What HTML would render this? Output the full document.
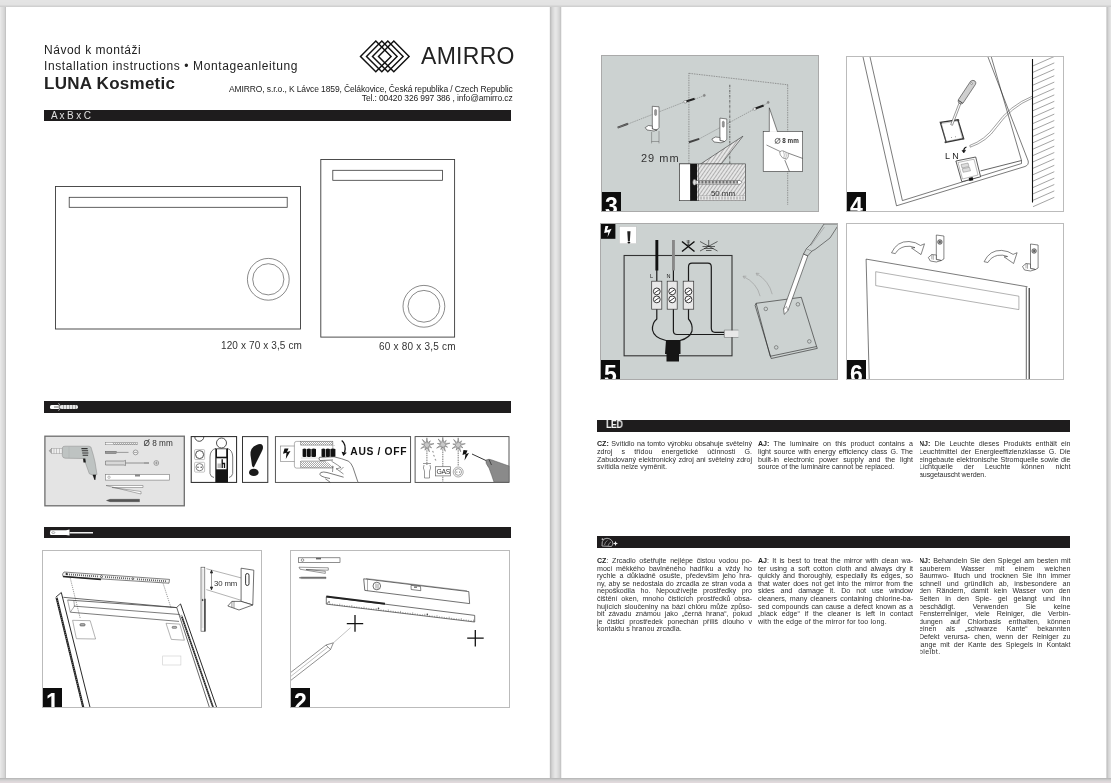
<!DOCTYPE html>
<html><head><meta charset="utf-8">
<style>
*{margin:0;padding:0;box-sizing:border-box}
html,body{width:1111px;height:783px;overflow:hidden}
body{background:#e3e3e3;font-family:"Liberation Sans",sans-serif;color:#222;position:relative}
.a{position:absolute}
.page{position:absolute;top:7px;height:771px;background:#fff}
.bar{position:absolute;background:#1e1c1d;height:11px}
.t{position:absolute;white-space:nowrap;line-height:1;will-change:transform}
.panel{position:absolute;border:1px solid #b4b4b4;overflow:hidden}
.num{position:absolute;left:0;bottom:0;width:19px;height:19px;background:#0d0d0d;color:#fff;font-weight:bold;font-size:23px;line-height:23px;text-indent:3px;overflow:hidden;padding-top:3px;filter:grayscale(1)}
.col{position:absolute;font-size:6.4px;line-height:7.55px;text-align:justify;color:#333;letter-spacing:-0.05px}
.ln{will-change:transform;position:absolute;left:0;width:100%;font-size:7.1px;line-height:8px;height:8px;text-align:justify;text-align-last:justify;color:#2e2e2e;white-space:normal}
.ln.last{text-align:left;text-align-last:left;white-space:nowrap}
.ln b{font-weight:bold;color:#222}
svg.a{will-change:transform}
</style></head><body>
<!-- page shadows -->
<div class="a" style="left:0px;top:0px;width:1111px;height:7px;background:linear-gradient(180deg,#e4e4e4 0.000%,#e4e4e4 14.286%,#e4e4e4 14.286%,#e4e4e4 28.571%,#e3e3e3 28.571%,#e3e3e3 42.857%,#e3e3e3 42.857%,#e3e3e3 57.143%,#e2e2e2 57.143%,#e2e2e2 71.429%,#d9d9d9 71.429%,#d9d9d9 85.714%,#d0d0d0 85.714%,#d0d0d0 100.000%)"></div>
<div class="a" style="left:0px;top:778px;width:1111px;height:5px;background:linear-gradient(180deg,#bababa 0.000%,#bababa 20.000%,#c9c9c9 20.000%,#c9c9c9 40.000%,#d4d2d3 40.000%,#d4d2d3 60.000%,#dcd7d9 60.000%,#dcd7d9 80.000%,#e1d9dc 80.000%,#e1d9dc 100.000%)"></div>
<div class="a" style="left:0px;top:7px;width:6px;height:771px;background:linear-gradient(90deg,#e8e8e8 0.000%,#e8e8e8 16.667%,#e2e2e2 16.667%,#e2e2e2 33.333%,#dedede 33.333%,#dedede 50.000%,#d9d9d9 50.000%,#d9d9d9 66.667%,#d3d3d3 66.667%,#d3d3d3 83.333%,#c4c4c4 83.333%,#c4c4c4 100.000%)"></div>
<div class="a" style="left:550px;top:7px;width:11px;height:771px;background:linear-gradient(90deg,#bebebe 0.000%,#bebebe 9.091%,#cbcbcb 9.091%,#cbcbcb 18.182%,#d6d6d6 18.182%,#d6d6d6 27.273%,#dcdcdc 27.273%,#dcdcdc 36.364%,#e3e3e3 36.364%,#e3e3e3 45.455%,#e6e6e6 45.455%,#e6e6e6 54.545%,#e4e4e4 54.545%,#e4e4e4 63.636%,#dfdfdf 63.636%,#dfdfdf 72.727%,#d9d9d9 72.727%,#d9d9d9 81.818%,#d2d2d2 81.818%,#d2d2d2 90.909%,#c6c6c6 90.909%,#c6c6c6 100.000%)"></div>
<div class="a" style="left:1106px;top:7px;width:5px;height:771px;background:linear-gradient(90deg,#d8d8d8 0.000%,#d8d8d8 20.000%,#c6c6c6 20.000%,#c6c6c6 40.000%,#d4d4d4 40.000%,#d4d4d4 60.000%,#dcdcdc 60.000%,#dcdcdc 80.000%,#e3e3e3 80.000%,#e3e3e3 100.000%)"></div>

<div class="page" style="left:6px;width:544px"></div>
<div class="a" style="left:549px;top:7px;width:1px;height:771px;background:#f4f4f4"></div>
<div class="page" style="left:561px;width:545px"></div>
<div class="a" style="left:561px;top:7px;width:1px;height:771px;background:#f0f0f0"></div>

<!-- ================= LEFT PAGE ================= -->
<div class="t" style="left:44px;top:44.4px;font-size:12px;letter-spacing:0.52px">Návod k montáži</div>
<div class="t" style="left:44px;top:60px;font-size:12px;letter-spacing:0.6px">Installation instructions • Montageanleitung</div>
<div class="t" style="left:43.6px;top:75.2px;font-size:17px;font-weight:bold;letter-spacing:0.26px">LUNA Kosmetic</div>

<div class="t" style="right:598.5px;top:85.4px;font-size:8.5px;text-align:right;line-height:9px;letter-spacing:-0.12px">AMIRRO, s.r.o., K Lávce 1859, Čelákovice, Česká republika / Czech Republic<br>Tel.: 00420 326 997 386 , info@amirro.cz</div>
<svg class="a" style="left:350px;top:36px" width="70" height="42" viewBox="350 36 70 42" fill="none" stroke="#111" stroke-width="1.45">
<path d="M375.8 41.1 L391.1 56.4 L375.8 71.7 L360.5 56.4 Z"/>
<path d="M381.8 41.1 L397.1 56.4 L381.8 71.7 L366.5 56.4 Z"/>
<path d="M387.8 41.1 L403.1 56.4 L387.8 71.7 L372.5 56.4 Z"/>
<path d="M393.8 41.1 L409.1 56.4 L393.8 71.7 L378.5 56.4 Z"/>
</svg>
<div class="t" style="left:420.5px;top:44.8px;font-size:23px;letter-spacing:0.3px">AMIRRO</div>

<div class="bar" style="left:44px;top:109.5px;width:467px;height:11.5px"></div>
<div class="t" style="left:51px;top:110.7px;font-size:10px;color:#e0e0e0;letter-spacing:0.1px;word-spacing:-0.5px">A x B x C</div>

<svg class="a" style="left:40px;top:150px" width="430" height="200" viewBox="40 150 430 200" fill="none" stroke="#3a3a3a" stroke-width="0.9">
<rect x="55.5" y="186.5" width="245" height="142.5"/>
<rect x="69.2" y="197.3" width="218" height="10" stroke-width="0.8"/>
<circle cx="268.3" cy="279.3" r="20.9" stroke-width="0.6"/>
<circle cx="268.3" cy="279.3" r="15.6" stroke-width="0.6"/>
<rect x="320.8" y="159.5" width="133.8" height="177.6"/>
<rect x="332.8" y="170.3" width="109.8" height="10" stroke-width="0.8"/>
<circle cx="423.9" cy="306.3" r="20.9" stroke-width="0.6"/>
<circle cx="423.9" cy="306.3" r="15.9" stroke-width="0.6"/>
</svg>
<div class="t" style="left:220.5px;top:340.8px;font-size:10px;color:#333;letter-spacing:0.12px">120 x 70 x 3,5 cm</div>
<div class="t" style="left:378.6px;top:341.9px;font-size:10px;color:#333;letter-spacing:0.22px">60 x 80 x 3,5 cm</div>

<div class="bar" style="left:44px;top:401px;width:467px;height:11.8px"></div>
<svg class="a" style="left:44px;top:401px" width="40" height="12" viewBox="44 401 40 12">
<rect x="50" y="405" width="9.5" height="4" rx="1.6" fill="#fff"/>
<path d="M58.5 403.2 L61 407 L58.5 410.8" stroke="#ccc" stroke-width="0.8" fill="none"/>
<rect x="60" y="405" width="18" height="4" rx="1.8" fill="#e6e6e6"/>
<path d="M63.5 405v4M66.5 405v4M69.5 405v4M72.5 405v4M75.5 405v4" stroke="#777" stroke-width="0.6"/>
<rect x="54" y="406.3" width="5" height="1.4" fill="#999"/>
</svg>

<!-- tools row -->
<svg class="a" style="left:40px;top:430px" width="475" height="82" viewBox="40 430 475 82">
<defs><pattern id="hs" width="2" height="2" patternUnits="userSpaceOnUse"><rect width="2" height="2" fill="#fff"/><path d="M0 2L2 0" stroke="#555" stroke-width="0.5"/></pattern></defs>
<!-- box 1 -->
<rect x="44.9" y="436.2" width="139.4" height="69.6" fill="#e4e4e4" stroke="#6e6e6e" stroke-width="1.3"/>
<!-- drill -->
<path d="M49.1 450.7 L51.6 448.6 L51.6 453.4 Z" fill="#aaa" stroke="#777" stroke-width="0.4"/>
<rect x="51.6" y="448.4" width="10.7" height="5.4" fill="#eee" stroke="#888" stroke-width="0.4"/>
<path d="M54 448.4v5.4M56.5 448.4v5.4M59.5 448.4v5.4" stroke="#999" stroke-width="0.5"/>
<path d="M62.3 448 Q62.5 446.2 65 446.2 L89 446.2 Q91.5 446.4 91.5 449 Q93.5 455 95 462 L97 474.5 L92.5 475 L89.3 473.7 L85.3 462.5 L83 458.5 L65 458.2 Q62.5 458 62.3 455.5 Z" fill="#bec3c2" stroke="#888" stroke-width="0.5"/>
<path d="M69 446.4 V458.2" stroke="#a8adac" stroke-width="0.5"/>
<path d="M81.4 448.6h6.2M81.8 450.8h6.3M82.2 453h6.2M82.6 455.2h5.5" stroke="#333" stroke-width="1.1"/>
<path d="M83.1 458.5 L85.3 458.5 L85.8 462.5 L83.5 462.5 Z" fill="#1a1a1a"/>
<path d="M92.6 474.8 L96 474.8 L95.3 480 L94.5 480 Z" fill="#1a1a1a"/>
<!-- bit -->
<rect x="105.2" y="442.6" width="32.5" height="2.2" fill="#f5f5f5" stroke="#666" stroke-width="0.4"/>
<path d="M113 442.6 l1.5 2.2 M115 442.6 l1.5 2.2 M117 442.6 l1.5 2.2 M119 442.6 l1.5 2.2 M121 442.6 l1.5 2.2 M123 442.6 l1.5 2.2 M125 442.6 l1.5 2.2 M127 442.6 l1.5 2.2 M129 442.6 l1.5 2.2 M131 442.6 l1.5 2.2 M133 442.6 l1.5 2.2 M135 442.6 l1.5 2.2" stroke="#555" stroke-width="0.5"/>
<text x="143.6" y="446.2" font-family="Liberation Sans" font-size="8.2" fill="#333">Ø 8 mm</text>
<!-- small screwdriver -->
<rect x="105.2" y="451.2" width="11" height="2.4" fill="#999" stroke="#555" stroke-width="0.4"/>
<path d="M116.2 452.4 H128.5" stroke="#888" stroke-width="0.8"/>
<circle cx="135.6" cy="452.4" r="2.4" fill="#f3f3f3" stroke="#555" stroke-width="0.5"/><path d="M133.9 452.4h3.4" stroke="#555" stroke-width="0.5"/>
<!-- big screwdriver -->
<path d="M105.5 461 H124 L125.5 460.3 V465.6 L124 465 H105.5 Z" fill="#d8d8d8" stroke="#555" stroke-width="0.5"/>
<path d="M125.5 463 H144" stroke="#888" stroke-width="0.9"/><path d="M144 463 H149" stroke="#555" stroke-width="0.9"/>
<circle cx="156.3" cy="463" r="2.4" fill="#f3f3f3" stroke="#555" stroke-width="0.5"/><path d="M154.6 463h3.4M156.3 461.3v3.4" stroke="#555" stroke-width="0.5"/>
<!-- level -->
<rect x="105.3" y="474.3" width="64" height="5.8" fill="#fff" stroke="#777" stroke-width="0.6"/>
<rect x="135" y="474.3" width="5" height="2.2" fill="#888"/>
<circle cx="109" cy="477.2" r="1.2" fill="none" stroke="#555" stroke-width="0.4"/>
<!-- folding rule -->
<path d="M106 485.5 L143 485.5 L143 487.5 L112 487.5 L141 491.5 L141 494 Z" fill="#fff" stroke="#666" stroke-width="0.5"/>
<!-- pencil -->
<path d="M106.5 500.5 L110 499.3 H139.5 V501.7 H110 Z" fill="#555" stroke="#444" stroke-width="0.4"/>

<!-- box 2 person -->
<rect x="191.2" y="436.6" width="45.4" height="45.8" fill="#fff" stroke="#222" stroke-width="1"/>
<path d="M194.8 436.8 A4.5 4.5 0 0 0 203.8 436.8" fill="none" stroke="#222" stroke-width="0.8"/>
<rect x="194.6" y="449.6" width="10" height="10" rx="1" fill="#fff" stroke="#888" stroke-width="0.5"/>
<circle cx="199.6" cy="454.6" r="4" fill="none" stroke="#222" stroke-width="0.8"/>
<rect x="194.6" y="462.3" width="10" height="9.8" rx="1" fill="#fff" stroke="#888" stroke-width="0.5"/>
<circle cx="199.6" cy="467.2" r="3.6" fill="none" stroke="#333" stroke-width="0.6"/>
<circle cx="198" cy="467.2" r="0.7" fill="#333"/><circle cx="201.2" cy="467.2" r="0.7" fill="#333"/>
<circle cx="221.5" cy="443" r="5" fill="#fff" stroke="#222" stroke-width="0.8"/>
<path d="M216 448.3 Q210 450 210 457 L210 473.5 Q210.5 477 214 477.5 M227 448.3 Q232.7 450 232.7 457 L232.7 473.5 Q232 477 229 477.5" fill="none" stroke="#222" stroke-width="0.6"/>
<path d="M215.3 448.5 H228 V482.4 H215.3 Z" fill="#151515"/>
<rect x="217" y="449.2" width="9.2" height="7.5" fill="#fff"/>
<rect x="216.5" y="458.3" width="10" height="11" fill="#fff"/>
<path d="M222.2 459.3 V468 M222.2 463.5 H224.5 V468" stroke="#111" stroke-width="1.3" fill="none"/>
<rect x="217.5" y="463.5" width="3.6" height="4.5" fill="#bbb"/>

<!-- box 3 ! -->
<rect x="242.5" y="436.6" width="25.3" height="45.8" fill="#fff" stroke="#333" stroke-width="1"/>
<path d="M256.5 445 Q261 443 262.6 445.5 Q263.8 448 261.5 452 L254 467 Q252.8 468 252 465.5 L250.5 455 Q250 447.5 256.5 445 Z" fill="#1a1a1a"/>
<ellipse cx="253.8" cy="472.4" rx="4.8" ry="3.7" fill="#1a1a1a"/>

<!-- box 4 AUS/OFF -->
<rect x="275.4" y="436.6" width="135.2" height="45.8" fill="#fff" stroke="#444" stroke-width="0.9"/>
<rect x="280.3" y="446" width="15.3" height="15.4" fill="#fff" stroke="#666" stroke-width="0.5"/>
<path d="M284.5 448.5 L283 453.8 L286.5 452.8 L285.8 459 L290.5 451 L287 452 L288.5 448.5 Z" fill="#111"/>
<path d="M296.5 441.4 H332.8 V468.1 H296.5 Q294.4 468.1 294.4 466 V443.5 Q294.4 441.4 296.5 441.4 Z" fill="#fff" stroke="#666" stroke-width="0.5"/>
<rect x="300.4" y="441.6" width="32.4" height="3.4" fill="url(#hs)" stroke="#666" stroke-width="0.4"/>
<rect x="300.4" y="461.8" width="32.4" height="5.8" fill="url(#hs)" stroke="#666" stroke-width="0.4"/>
<path d="M301 445.5 H335 M301 458 H333 M301 460.5 H333" stroke="#aaa" stroke-width="0.4"/>
<g fill="#111">
<path d="M302.6 449 q1.9 -1 3.8 0 v7.5 q-1.9 1 -3.8 0 Z"/>
<path d="M307 449 q1.9 -1 3.8 0 v7.5 q-1.9 1 -3.8 0 Z"/>
<path d="M311.4 449 q2.3 -1 4.6 0 v7.5 q-2.3 1 -4.6 0 Z"/>
<path d="M321.5 449 q1.9 -1 3.8 0 v7.5 q-1.9 1 -3.8 0 Z"/>
<path d="M325.9 449 q2 -1 4 0 v7.5 q-2 1 -4 0 Z"/>
<path d="M330.4 449 q2.5 -1 5 0 v7.5 q-2.5 1 -5 0 Z"/>
</g>
<path d="M341.7 440.4 Q346.5 444 344.6 452.5" fill="none" stroke="#111" stroke-width="1.3"/><path d="M341.6 451.8 L343.3 456 L346.8 452.8 Z" fill="#111"/>
<text x="350.3" y="455" font-family="Liberation Sans" font-weight="bold" font-size="10.3" fill="#111" letter-spacing="0.66">AUS / OFF</text>
<path d="M319.6 457.3 Q318 459 320 460.5 L333 460 M319.6 457.3 L334.1 456.8 Q342 458.5 348.6 461.2 Q351.5 463.5 353 467.5 L358 482.4" fill="#fff" stroke="#222" stroke-width="0.6"/>
<path d="M331.5 461.2 L337.5 465 L341 467.5 L336 469 M333 466 L332.5 472 M336 468.5 L343.5 474 M340 470.5 L343.5 467" fill="none" stroke="#222" stroke-width="0.5"/>
<path d="M330 478.5 Q324 477.5 321.2 476 Q318.5 474 320.8 472.5 Q323.5 471.5 327 472.5 L336 475 L343.6 477.2" fill="#fff" stroke="#222" stroke-width="0.6"/>
<path d="M325.3 478.8 Q328 480.5 330.3 482.4" fill="none" stroke="#222" stroke-width="0.6"/>

<!-- box 5 pipes -->
<rect x="415.1" y="436.6" width="93.9" height="45.8" fill="#fff" stroke="#444" stroke-width="0.9"/>
<path d="M426.9 441 V473 M442.8 440 V482.4 M458.2 441 V466" stroke="#888" stroke-width="1.1" stroke-dasharray="1.5 0.8"/>
<g stroke="#555" stroke-width="0.45" fill="#c8c8c8"><path d="M426.9 437.8 L427.7 442.9 L430.4 440.8 L428.8 443.9 L434.0 443.7 L429.1 445.4 L431.7 447.8 L428.3 446.7 L429.4 451.8 L426.9 447.2 L425.0 450.2 L425.5 446.7 L420.7 448.6 L424.7 445.4 L421.5 444.0 L425.0 443.9 L422.3 439.5 L426.1 442.9 Z"/><path d="M442.8 437.3 L443.6 442.4 L446.3 440.3 L444.7 443.4 L449.9 443.2 L445.0 444.9 L447.6 447.2 L444.2 446.2 L445.3 451.3 L442.8 446.7 L440.9 449.7 L441.4 446.2 L436.6 448.1 L440.6 444.9 L437.4 443.5 L440.9 443.4 L438.2 439.0 L442.0 442.4 Z"/><path d="M458.2 437.8 L459.0 442.9 L461.7 440.8 L460.1 443.9 L465.3 443.7 L460.4 445.4 L463.0 447.8 L459.6 446.7 L460.7 451.8 L458.2 447.2 L456.3 450.2 L456.8 446.7 L452.0 448.6 L456.0 445.4 L452.8 444.0 L456.3 443.9 L453.6 439.5 L457.4 442.9 Z"/></g>
<path d="M432.5 451 l1 1.5 M433.5 455 l1 1.5 M435 459 l1 1.5" stroke="#999" stroke-width="1.2"/>
<path d="M423 463.5 H431 M424 465 Q422.5 468 424.5 471 L424.5 478 H429.5 V471 Q431.5 468 430 465" fill="#fff" stroke="#555" stroke-width="0.6"/>
<rect x="435.4" y="466.7" width="15.2" height="9.2" fill="#fff" stroke="#666" stroke-width="0.7"/>
<text x="436.6" y="474.3" font-family="Liberation Sans" font-size="6.9" fill="#333" letter-spacing="-0.45">GAS</text>
<circle cx="458.2" cy="472" r="5" fill="#fff" stroke="#888" stroke-width="0.7"/><circle cx="458.2" cy="472" r="3.3" fill="none" stroke="#444" stroke-width="0.5"/>
<circle cx="456.9" cy="472" r="0.5" fill="#333"/><circle cx="459.5" cy="472" r="0.5" fill="#333"/>
<path d="M463.5 450 L462.5 455 L465.5 454 L464.5 460.5 L469 453 L466 454 L467.5 450.5 Z" fill="#111"/>
<path d="M472 454 L487 461" stroke="#333" stroke-width="1"/>
<path d="M486 460 Q489 458.5 492 460 L509 466 L509 482.2 L494 482.2 Q492 476 489 468 Q485 463 486 460 Z" fill="#8a8a8a" stroke="#555" stroke-width="0.5"/>
<path d="M489 459.5 L491.5 465" stroke="#444" stroke-width="1"/>
</svg>

<div class="bar" style="left:44px;top:527.1px;width:467px;height:11.4px"></div>
<svg class="a" style="left:44px;top:527px" width="55" height="12" viewBox="44 527 55 12">
<path d="M50.5 530.2 H66 L69.5 529.6 V535.6 L66 535 H50.5 Q49.4 532.6 50.5 530.2 Z" fill="#fff"/>
<ellipse cx="53.3" cy="532.6" rx="1.6" ry="0.9" fill="none" stroke="#666" stroke-width="0.5"/>
<rect x="69.5" y="532" width="23.5" height="1.5" fill="#f0f0f0"/>
</svg>

<div class="panel" style="left:42px;top:550px;width:219.5px;height:158px;border-color:#bbb">
<svg class="a" style="left:-43px;top:-551px" width="262" height="710" viewBox="0 0 262 710">
<defs>
<pattern id="rail" width="2.4" height="2.4" patternUnits="userSpaceOnUse" patternTransform="rotate(-20)"><rect width="2.4" height="2.4" fill="#fff"/><rect width="2.4" height="1.1" fill="#333"/></pattern>
</defs>
<g fill="none" stroke="#222" stroke-width="0.7">
<!-- left rail -->
<path d="M55.7 597.3 L61.3 592.5 L90.2 708 L83.3 708 Z" fill="#fff" stroke="none"/>
<path d="M56.6 597.8 L83.4 708" stroke="#1a1a1a" stroke-width="2.1"/>
<path d="M56.6 597.8 L83.4 708" stroke="#fff" stroke-width="0.7" stroke-dasharray="0.6 1.6"/>
<path d="M61.3 592.5 L90.2 708" stroke="#111" stroke-width="0.9"/>
<path d="M55.7 597.3 L61.3 592.5" stroke="#222" stroke-width="0.9"/>
<!-- right rail -->
<path d="M176.7 607.4 L180.5 603.9 L216.9 708 L209.3 708 Z" fill="#fff" stroke="none"/>
<path d="M180.5 603.9 L216.9 708" stroke="#111" stroke-width="0.9"/>
<path d="M176.7 607.4 L209.6 708" stroke="#222" stroke-width="0.7"/>
<path d="M176.7 607.4 L180.5 603.9" stroke="#222" stroke-width="0.7"/>
<path d="M181.8 616.5 L213.3 708" stroke="#222" stroke-width="1.7"/>
<path d="M181.8 616.5 L213.3 708" stroke="#fff" stroke-width="0.6" stroke-dasharray="0.6 1.5"/>
<circle cx="181.4" cy="616.2" r="0.9" fill="#fff" stroke="#333" stroke-width="0.4"/>
<!-- cross bar -->
<path d="M63.4 597.3 L176.7 607.6" stroke="#444" stroke-width="0.8"/>
<path d="M67.6 600 L176.7 607.6" stroke="#444" stroke-width="0.8"/>
<path d="M73.8 606.1 L179.8 614.5" stroke="#444" stroke-width="0.7"/>
<path d="M70.3 612.2 L179 621.4" stroke="#444" stroke-width="0.7"/>
<path d="M67.6 600 L70.3 612.2 L74.5 606.1 L73.8 600.5" stroke="#555" stroke-width="0.5"/>
<!-- plates -->
<path d="M72.6 620.3 L90.2 620.7 L95.6 639 L76.4 638.7 Z" stroke="#666" stroke-width="0.5"/>
<rect x="80" y="623.7" width="5" height="2.2" rx="0.8" fill="#bbb" stroke="#333" stroke-width="0.6"/>
<path d="M166 623.3 L179.8 624.1 L184.4 640.2 L171.3 639.4 Z" stroke="#666" stroke-width="0.5"/>
<rect x="172.2" y="626.4" width="4.4" height="1.9" rx="0.6" fill="#bbb" stroke="#333" stroke-width="0.5"/>
<rect x="162.7" y="656" width="18.2" height="9" stroke="#ccc" stroke-width="0.6"/>
<!-- dashed -->
<path d="M70.3 578.3 L80.3 618.6 M163.1 583.3 L171.2 608.5" stroke="#333" stroke-width="0.5" stroke-dasharray="1.2 1"/>
<!-- folding rule -->
<path d="M64 572 L169.5 579.4 L169 583.2 L63 576.5 Q61.5 574 64 572 Z" fill="#f4f4f4" stroke="#333" stroke-width="0.6"/>
<path d="M63 576.5 L101 579.5" stroke="#222" stroke-width="1.5"/>
<path d="M67.5 573.4l0 1.8M69.5 573.6l0 1.8M71.5 573.7l0 1.8M73.5 573.8l0 1.8M75.5 574.0l0 1.8M77.5 574.1l0 1.8M79.5 574.3l0 1.8M81.5 574.4l0 1.8M83.5 574.5l0 1.8M85.5 574.7l0 1.8M87.5 574.8l0 1.8M89.5 575.0l0 1.8M91.5 575.1l0 1.8M93.5 575.2l0 1.8M95.5 575.4l0 1.8M97.5 575.5l0 1.8M105.5 576.1l0 1.8M107.5 576.2l0 1.8M109.5 576.4l0 1.8M111.5 576.5l0 1.8M113.5 576.6l0 1.8M115.5 576.8l0 1.8M117.5 576.9l0 1.8M119.5 577.1l0 1.8M121.5 577.2l0 1.8M123.5 577.3l0 1.8M125.5 577.5l0 1.8M127.5 577.6l0 1.8M129.5 577.8l0 1.8M137.5 578.3l0 1.8M139.5 578.5l0 1.8M141.5 578.6l0 1.8M143.5 578.7l0 1.8M145.5 578.9l0 1.8M147.5 579.0l0 1.8M149.5 579.2l0 1.8M151.5 579.3l0 1.8M153.5 579.4l0 1.8M155.5 579.6l0 1.8M157.5 579.7l0 1.8M159.5 579.9l0 1.8M161.5 580.0l0 1.8M163.5 580.1l0 1.8M165.5 580.3l0 1.8" stroke="#444" stroke-width="0.8"/>
<circle cx="66.5" cy="574" r="0.7" fill="#222"/><circle cx="101.5" cy="576.6" r="1" fill="#fff"/><circle cx="132.8" cy="578.7" r="0.9" fill="#fff"/>
<!-- tape -->
<rect x="201" y="567.2" width="3.8" height="64" fill="#fafafa" stroke="#444" stroke-width="0.6"/>
<path d="M205 598.8 V631.5" stroke="#222" stroke-width="1.2"/>
<path d="M201.5 570h2M201.5 572h2M201.5 574h2M201.5 576h2M201.5 578h2M201.5 580h2M201.5 582h2M201.5 584h2M201.5 586h2M201.5 588h2M201.5 590h2M201.5 592h2M201.5 594h2M201.5 596h2M201.5 598h2M201.5 601h2M201.5 603h2M201.5 605h2M201.5 607h2M201.5 609h2M201.5 611h2M201.5 613h2M201.5 615h2M201.5 617h2M201.5 619h2M201.5 621h2M201.5 623h2M201.5 625h2M201.5 627h2" stroke="#888" stroke-width="0.35"/>
<circle cx="202.6" cy="600" r="0.6" fill="#222"/>
<!-- dims -->
<path d="M206.3 568.7 L241.1 577.9 M206.3 589.6 L241.1 600.3" stroke="#555" stroke-width="0.45"/>
<path d="M211.5 570.5 V589.5" stroke="#333" stroke-width="0.5"/>
<path d="M210.3 573 L211.5 570.2 L212.7 573 Z M210.3 587 L211.5 589.8 L212.7 587 Z" fill="#333"/>
<!-- bracket -->
<path d="M241.1 568.2 L253.8 570.2 L252.8 604.9 L241.1 601.4 Z" fill="#fff" stroke="#333" stroke-width="0.7"/>
<rect x="245.6" y="573.5" width="3.4" height="12" rx="1.7" stroke="#222" stroke-width="0.9"/>
<path d="M227.8 606 L231.9 601.4 L241.1 601.4 L252.8 605 L239 610 Z" fill="#fff" stroke="#333" stroke-width="0.7"/>
<path d="M231.9 601.4 V607.5 M234 601.4 V608.2" stroke="#333" stroke-width="0.5"/>
</g>
<text x="213.9" y="586" font-family="Liberation Sans" font-size="7.8" fill="#333" letter-spacing="-0.1">30 mm</text>
</svg>
<div class="num">1</div></div>
<div class="panel" style="left:290px;top:550px;width:219.5px;height:158px;border-color:#bbb">
<svg class="a" style="left:-291px;top:-551px" width="510" height="710" viewBox="0 0 510 710">
<g fill="none" stroke="#333" stroke-width="0.6">
<!-- small icons -->
<rect x="298.5" y="557.8" width="41.5" height="4.6" fill="#fff" stroke="#444"/>
<rect x="316" y="557.8" width="5" height="1.6" fill="#666" stroke="none"/>
<circle cx="302.5" cy="560.1" r="1.3" stroke-width="0.5"/>
<path d="M299 567.2 L328.3 567.8 L328.3 570.2 L306 569.5 L325.3 571.3 L325.3 573.4 L300 569.2 Z" fill="#fff" stroke-width="0.5"/>
<path d="M299 577.8 L301.5 577 H326 V578.6 H301.5 Z" fill="#777" stroke="#555" stroke-width="0.4"/>
<!-- big level -->
<path d="M363.7 578.8 L468.8 591.6 L469.6 603.6 L364.8 590.4 Z" fill="#fff" stroke-width="0.7"/>
<path d="M366 578.5 L467 590.8" stroke-width="0.4"/>
<path d="M367.5 579.5 V590.7" stroke-width="0.4"/>
<circle cx="376.8" cy="586" r="3.8" stroke-width="0.7"/><path d="M376 583.5 V588.5 M378 583.8 V588.8" stroke-width="0.5"/>
<path d="M411 585.3 L420.5 586.5 L420.8 590.7 L411.2 589.5 Z" stroke-width="0.6"/><rect x="414" y="586.4" width="3" height="1.5" fill="#777" stroke="none"/>
<!-- long folding rule -->
<path d="M326.3 596.8 L474.7 615.4 L474.7 622 L326.3 604.1 Z" fill="#fff" stroke-width="0.7"/>
<path d="M326.3 596.6 L385 603.8" stroke="#222" stroke-width="2"/>
<path d="M327.5 604.4l0 -2.2M329.9 604.7l0 -1.4M332.4 605.0l0 -1.4M334.8 605.3l0 -1.4M337.2 605.6l0 -1.4M339.7 605.9l0 -2.2M342.1 606.1l0 -1.4M344.5 606.4l0 -1.4M347.0 606.7l0 -1.4M349.4 607.0l0 -1.4M351.8 607.3l0 -2.2M354.3 607.6l0 -1.4M356.7 607.9l0 -1.4M359.1 608.2l0 -1.4M361.6 608.5l0 -1.4M364.0 608.8l0 -2.2M366.4 609.0l0 -1.4M368.9 609.3l0 -1.4M371.3 609.6l0 -1.4M373.7 609.9l0 -1.4M376.2 610.2l0 -2.2M378.6 610.5l0 -1.4M381.0 610.8l0 -1.4M383.5 611.1l0 -1.4M385.9 611.4l0 -1.4M388.3 611.6l0 -2.2M390.8 611.9l0 -1.4M393.2 612.2l0 -1.4M395.6 612.5l0 -1.4M398.1 612.8l0 -1.4M400.5 613.1l0 -2.2M402.9 613.4l0 -1.4M405.4 613.7l0 -1.4M407.8 614.0l0 -1.4M410.2 614.3l0 -1.4M412.7 614.5l0 -2.2M415.1 614.8l0 -1.4M417.5 615.1l0 -1.4M420.0 615.4l0 -1.4M422.4 615.7l0 -1.4M424.8 616.0l0 -2.2M427.3 616.3l0 -1.4M429.7 616.6l0 -1.4M432.1 616.9l0 -1.4M434.6 617.2l0 -1.4M437.0 617.4l0 -2.2M439.4 617.7l0 -1.4M441.9 618.0l0 -1.4M444.3 618.3l0 -1.4M446.7 618.6l0 -1.4M449.2 618.9l0 -2.2M451.6 619.2l0 -1.4M454.0 619.5l0 -1.4M456.5 619.8l0 -1.4M458.9 620.1l0 -1.4M461.3 620.3l0 -2.2M463.8 620.6l0 -1.4M466.2 620.9l0 -1.4M468.6 621.2l0 -1.4M471.1 621.5l0 -1.4M473.5 621.8l0 -2.2" stroke="#444" stroke-width="0.45"/>
<circle cx="329" cy="602" r="0.8" fill="#333" stroke="none"/><circle cx="378.5" cy="608.2" r="0.8" fill="#333" stroke="none"/><circle cx="427.3" cy="614.3" r="0.8" fill="#333" stroke="none"/>
<!-- crosses -->
<path d="M346.8 623.7 H363.2 M355 615 V631.8" stroke="#111" stroke-width="1.3"/>
<path d="M467.2 638.2 H483.7 M475.3 630.1 V646.5" stroke="#111" stroke-width="1.3"/>
<!-- pencil -->
<path d="M333.4 642.8 L350.5 627.7" stroke="#666" stroke-width="0.4"/>
<path d="M290 673 L326 645 L333.4 642.8 L330.5 649.5 L290 681" fill="#fff" stroke="#444" stroke-width="0.6"/>
<path d="M290 677 L328 647" stroke="#666" stroke-width="0.4"/>
<path d="M326 645 L330.5 649.5" stroke-width="0.5"/>
</g>
</svg>
<div class="num">2</div></div>

<!-- ================= RIGHT PAGE ================= -->
<div class="panel" style="left:601px;top:55px;width:217.5px;height:156.5px;background:#ccd2d1;border-color:#aaa">
<svg class="a" style="left:-602px;top:-56px" width="820" height="212" viewBox="0 0 820 212">
<defs>
<pattern id="hatch3" width="3" height="3" patternUnits="userSpaceOnUse" patternTransform="rotate(-55)"><rect width="3" height="3" fill="#e6e6e6"/><rect width="3" height="0.5" fill="#777"/></pattern>
</defs>
<g fill="none" stroke="#444" stroke-width="0.6">
<!-- wall outline dotted -->
<path d="M688.9 73.3 L787.7 84.8 M688.9 73.3 V164 M787.7 84.8 V205.5" stroke="#777" stroke-width="0.9" stroke-dasharray="0.8 0.9"/>
<path d="M729.8 84.8 V164" stroke="#333" stroke-width="0.7" stroke-dasharray="2.5 1 0.6 1"/>
<!-- screw lines -->
<path d="M628 124 L684.3 102 M694.6 99.3 L704.3 95.6 M699.2 138.9 L754.4 109 M763.6 105.5 L768.2 102.5" stroke="#555" stroke-width="0.4" stroke-dasharray="1.5 0.8"/>
<path d="M617.6 127.6 L628 123.8" stroke="#444" stroke-width="2"/>
<path d="M618 127.6 L627.5 123.9" stroke="#ccc" stroke-width="0.6" stroke-dasharray="0.6 0.6"/>
<path d="M686 101.6 L694.6 98.8" stroke="#222" stroke-width="2.1"/><ellipse cx="685.2" cy="101.8" rx="1.5" ry="1.2" fill="#fff" stroke="#333" stroke-width="0.4"/>
<circle cx="704.3" cy="95.4" r="1.1" fill="#888" stroke="#666" stroke-width="0.3"/>
<path d="M688.9 142.3 L699.2 138.9" stroke="#444" stroke-width="2"/>
<path d="M755.5 108.6 L763.6 105.5" stroke="#222" stroke-width="2.1"/><ellipse cx="754.6" cy="109" rx="1.5" ry="1.2" fill="#fff" stroke="#333" stroke-width="0.4"/>
<circle cx="768.2" cy="102.4" r="1.1" fill="#888" stroke="#666" stroke-width="0.3"/>
<!-- bracket 1 -->
<path d="M652.3 106.3 L659 106.8 L659 127.5 L657 130 L652.3 129 Z" fill="#fff" stroke="#333" stroke-width="0.6"/>
<rect x="654.6" y="109.5" width="2" height="6" rx="1" fill="#999" stroke="#555" stroke-width="0.4"/>
<path d="M645.2 127.6 L648.5 125.5 L652.3 126 L652.3 129 L657 130 L654 131 L647 130 Z" fill="#fff" stroke="#333" stroke-width="0.6"/>
<path d="M651.6 132 V143.4 M659 131 V143.4 M651.6 141.5 H659" stroke="#444" stroke-width="0.4"/>
<!-- bracket 2 -->
<path d="M719.9 118.1 L726.8 119 L726.8 139.5 L724.5 141.5 L719.9 140.5 Z" fill="#fff" stroke="#333" stroke-width="0.6"/>
<rect x="722.3" y="121.2" width="2" height="6" rx="1" fill="#999" stroke="#555" stroke-width="0.4"/>
<path d="M711.8 139 L715.5 137 L719.9 137.5 L719.9 140.5 L724.5 141.5 L721 142.8 L714 142 Z" fill="#fff" stroke="#333" stroke-width="0.6"/>
<!-- detail box left -->
<path d="M699.7 164.6 L742.9 136.2 L721.3 163.9 Z" fill="url(#hatch3)" stroke="#333" stroke-width="0.6"/>
<rect x="679.5" y="163.9" width="65.8" height="36.8" fill="url(#hatch3)" stroke="#333" stroke-width="0.6"/>
<rect x="679.5" y="163.9" width="10.8" height="36.8" fill="#fff" stroke="#333" stroke-width="0.6"/>
<rect x="690.3" y="163.9" width="6.7" height="36.8" fill="#151515" stroke="none"/>
<path d="M698.4 164 V200.7" stroke="#333" stroke-width="0.5"/>
<path d="M698.4 195.6 H745.3" stroke="#777" stroke-width="0.4"/>
<rect x="699" y="195.8" width="46" height="4.6" fill="#e6e6e6" stroke="none"/>
<path d="M700 198 h45" stroke="#888" stroke-width="3" stroke-dasharray="0.4 1.1"/>
<path d="M693.5 180.5 L740.2 180.5 L741.8 182.3 L740.2 184.2 L693.5 184.2 Z" fill="#fff" stroke="#333" stroke-width="0.5"/>
<path d="M698 182.3 H738" stroke="#333" stroke-width="2.6" stroke-dasharray="0.7 0.7"/>
<ellipse cx="694.5" cy="182.3" rx="1.8" ry="3" fill="#ddd" stroke="#333" stroke-width="0.5"/>
<!-- detail box right -->
<path d="M769.3 131.5 L769.3 107.8 L777.4 131.5" fill="#fff" stroke="#333" stroke-width="0.6"/>
<rect x="763.2" y="131.5" width="39.5" height="39.8" fill="#fff" stroke="#333" stroke-width="0.6"/>
<path d="M769.8 131.6 H776.9" stroke="#fff" stroke-width="1"/>
<path d="M766.5 145 L782 152.4" stroke="#444" stroke-width="0.6"/>
<path d="M788.3 153.2 L802.6 158.4 M784.8 160.1 L789.4 171.4" stroke="#333" stroke-width="0.6"/>
<path d="M779.7 152 Q781 150.5 783 150.8 L788.3 153.2 Q789 157.5 786.5 159.3 L782.5 157.8 Q779.5 155 779.7 152 Z" fill="#fff" stroke="#444" stroke-width="0.5"/>
<path d="M783.5 151.3 Q785 155 783.8 158.3 M785.8 152.3 Q787 156 785.5 159" stroke="#555" stroke-width="0.4"/>
</g>
<text x="641" y="161.8" font-family="Liberation Sans" font-size="11" fill="#333" letter-spacing="1">29 mm</text>
<text x="711" y="195.6" font-family="Liberation Sans" font-size="8" fill="#333" letter-spacing="-0.1">50 mm</text>
<g fill="none" stroke="#333" stroke-width="0.7"><circle cx="777.6" cy="140.9" r="2.5"/><path d="M775.2 143.6 L780.1 138.1"/></g>
<text x="782.3" y="143.3" font-family="Liberation Sans" font-size="6.3" font-weight="bold" fill="#333" letter-spacing="0">8 mm</text>
</svg>
<div class="num">3</div></div>
<div class="panel" style="left:846px;top:56px;width:218px;height:155.5px;border-color:#bbb">
<svg class="a" style="left:-847px;top:-57px" width="1064" height="212" viewBox="0 0 1064 212">
<g fill="none" stroke="#222" stroke-width="0.6">
<!-- mirror -->
<path d="M862.8 56 L896.5 205.8 L1025 166.5 Q1029 165 1028.2 161 L987.6 56" fill="#fff"/>
<path d="M869.8 56 L902.4 200.6 L1021.5 163.5" />
<path d="M991 56 L1021.5 160.5 L1021.5 163.5" stroke-width="0.6"/>
<!-- wall -->
<path d="M1032.5 59 V202.5" stroke="#111" stroke-width="1.1"/>
<path d="M1033 65.9 L1054.3 56.5 M1033 72.3 L1054.3 62.9 M1033 78.7 L1054.3 69.3 M1033 85.1 L1054.3 75.7 M1033 91.5 L1054.3 82.1 M1033 97.9 L1054.3 88.5 M1033 104.3 L1054.3 94.9 M1033 110.7 L1054.3 101.3 M1033 117.1 L1054.3 107.7 M1033 123.5 L1054.3 114.1 M1033 129.9 L1054.3 120.5 M1033 136.3 L1054.3 126.9 M1033 142.7 L1054.3 133.3 M1033 149.1 L1054.3 139.7 M1033 155.5 L1054.3 146.1 M1033 161.9 L1054.3 152.5 M1033 168.3 L1054.3 158.9 M1033 174.7 L1054.3 165.3 M1033 181.1 L1054.3 171.7 M1033 187.5 L1054.3 178.1 M1033 193.9 L1054.3 184.5 M1033 200.3 L1054.3 190.9 M1033 206.7 L1054.3 197.3 " stroke="#333" stroke-width="0.45"/>
<!-- cable -->
<path d="M1032.3 96.2 Q1010 105 995 126 Q985 140 969.8 145.4" stroke="#444" stroke-width="0.5"/>
<path d="M1032.3 98.2 Q1011 107 996.5 127.5 Q987 141.5 970.2 147.2" stroke="#444" stroke-width="0.5"/>
<path d="M969.8 145.4 L970.2 147.2" stroke="#444" stroke-width="0.5"/>
<!-- junction box -->
<path d="M940.3 122.4 L957.9 119.8 L963.7 138.7 L946.2 142.2 Z" fill="#fff" stroke="#333" stroke-width="1.3"/>
<path d="M941.5 123.5 L957.8 121 L962.2 138.2 L946 141.5 Z" stroke="#777" stroke-width="0.4"/>
<circle cx="941" cy="123" r="1" fill="#444" stroke="none"/><circle cx="958.3" cy="120.2" r="1" fill="#444" stroke="none"/><circle cx="963" cy="138.5" r="1" fill="#444" stroke="none"/><circle cx="945.5" cy="142.3" r="1" fill="#444" stroke="none"/>
<path d="M951 137.5 h1 M955 136.8 h1" stroke="#666" stroke-width="0.6"/>
<!-- screwdriver -->
<path d="M950.7 124.6 L959.8 101 L961.6 101.7 L952.5 125.3 Z" fill="#fff" stroke="#333" stroke-width="0.5"/>
<path d="M958.3 99.8 L970.7 81.1 Q973 79.6 975 81 Q976.5 83 975.5 84.3 L963.1 103 Q961.5 104.5 959.5 103.5 Q957.7 102 958.3 99.8 Z" fill="#cfcfcf" stroke="#333" stroke-width="0.6"/>
<circle cx="971.6" cy="83.6" r="0.9" fill="#fff" stroke="#444" stroke-width="0.4"/>
<path d="M958.5 100.5 L962.5 103" stroke="#333" stroke-width="0.9"/>
<!-- arrow -->
<path d="M966.5 147 Q963.5 148 963.8 151.5" stroke="#111" stroke-width="1.2"/>
<path d="M962 150.5 L963.8 153 L965.6 150.2 Z" fill="#111"/>
<!-- terminal block -->
<path d="M955.9 161 L975.7 157 L980.6 176.8 L961.8 181.7 Z" fill="#fff" stroke="#333" stroke-width="0.8"/>
<path d="M958 162.5 L974 159.2 L978 175 L962.5 179 Z" stroke="#555" stroke-width="0.4"/>
<path d="M961 164.5 L968 163 L969 166.5 L962 168 Z M962.2 168.8 L969.5 167.3 L970.5 170.8 L963.2 172.3 Z" fill="#ddd" stroke="#666" stroke-width="0.4"/>
<rect x="969" y="177.5" width="4" height="3.2" fill="#111" stroke="none" transform="rotate(-12 971 179)"/>
<path d="M980.6 170.9 L1021.5 160.5" stroke="#222" stroke-width="0.7"/>
</g>
<text x="945" y="159.3" font-family="Liberation Sans" font-size="9" fill="#222">L N</text>
</svg>
<div class="num">4</div></div>
<div class="panel" style="left:600px;top:223px;width:237.5px;height:157px;background:#ccd2d1;border-color:#aaa">
<svg class="a" style="left:-601px;top:-224px" width="840" height="382" viewBox="0 0 840 382">
<rect x="600.3" y="224" width="15.1" height="14.8" fill="#0d0d0d"/>
<path d="M605.4 225.9 L608.4 225.9 L607 230.3 L611.6 228.8 L607.6 237 L608.3 232.2 L604.2 233 Z" fill="#fff"/>
<rect x="619.5" y="226.7" width="16.7" height="17" fill="#fff" stroke="#bbb" stroke-width="0.4"/>
<path d="M627.3 231.2 h3.2 l-0.6 9.8 h-2 Z" fill="#222"/><ellipse cx="628.9" cy="242.6" rx="1.4" ry="1" fill="#111"/>
<rect x="624.1" y="255.5" width="107.9" height="100.3" fill="none" stroke="#333" stroke-width="1.1"/>
<g fill="none" stroke="#1a1a1a" stroke-width="1.2">
<path d="M656.8 309 V319 Q652 323 652.5 330 Q654 338 666 340.5"/>
<path d="M673.4 309 V331 Q673.4 334.5 677 334.5 H724.3"/>
<path d="M688.5 309 V319 Q693 324 692 331 Q690 338 680 340.5"/>
<path d="M688.5 281 V267 Q688.5 263.2 692 263.2 H707.8 Q711.3 263.2 711.3 267 V328 Q711.3 332.3 715 332.3 H724.3"/>
<path d="M656.8 270 V281 M673.4 270 V281"/>
</g>
<rect x="655.4" y="240" width="2.9" height="30.5" fill="#111"/>
<rect x="672" y="240" width="2.9" height="30.5" fill="#888"/>
<rect x="651.7" y="281.2" width="10.1" height="28" fill="#e8e8e8" stroke="#333" stroke-width="0.7"/>
<circle cx="656.8" cy="291.4" r="3.4" fill="#fff" stroke="#222" stroke-width="0.9"/><path d="M654.5 293 L659.0 289.8" stroke="#222" stroke-width="0.9"/>
<circle cx="656.8" cy="299.4" r="3.4" fill="#fff" stroke="#222" stroke-width="0.9"/><path d="M654.5 301 L659.0 297.8" stroke="#222" stroke-width="0.9"/>
<rect x="667.2" y="281.2" width="10.0" height="28" fill="#e8e8e8" stroke="#333" stroke-width="0.7"/>
<circle cx="672.2" cy="291.4" r="3.4" fill="#fff" stroke="#222" stroke-width="0.9"/><path d="M670.0 293 L674.4 289.8" stroke="#222" stroke-width="0.9"/>
<circle cx="672.2" cy="299.4" r="3.4" fill="#fff" stroke="#222" stroke-width="0.9"/><path d="M670.0 301 L674.4 297.8" stroke="#222" stroke-width="0.9"/>
<rect x="683.2" y="281.2" width="10.5" height="28" fill="#e8e8e8" stroke="#333" stroke-width="0.7"/>
<circle cx="688.5" cy="291.4" r="3.4" fill="#fff" stroke="#222" stroke-width="0.9"/><path d="M686.2 293 L690.7 289.8" stroke="#222" stroke-width="0.9"/>
<circle cx="688.5" cy="299.4" r="3.4" fill="#fff" stroke="#222" stroke-width="0.9"/><path d="M686.2 301 L690.7 297.8" stroke="#222" stroke-width="0.9"/>

<path d="M666 340 H680.5 V354 H679 V361.4 H666.5 V354 H665 Z" fill="#151515"/>
<path d="M724.3 330.2 H738.4 M724.3 337.3 H738.4" stroke="#444" stroke-width="0.5"/>
<rect x="724.3" y="330.5" width="14" height="6.6" fill="#e8e8e8"/>
<path d="M724.3 330.3 V337.3" stroke="#444" stroke-width="0.5"/>
<text x="650" y="278" font-family="Liberation Sans" font-size="5.5" fill="#222">L</text>
<text x="666.5" y="278" font-family="Liberation Sans" font-size="5.5" fill="#222">N</text>
<g stroke="#111" fill="none">
<path d="M682 241.5 L694.5 251.5 M694.5 241.5 L682 251.5" stroke-width="1.5"/>
<path d="M688.3 240 V247 M686.5 241 h3.6 M686.8 242.8 h3 M687.2 244.6 h2.2" stroke-width="0.5"/>
<path d="M700 241.5 L717.5 251 M717.5 241.5 L700 251" stroke-width="0.6"/>
<path d="M708.7 240 V246 M702.5 246.5 H715 M704 248.5 H713.5 M706 250.5 H711.5" stroke-width="0.6"/>
</g>
<!-- arrows -->
<g fill="none" stroke="#999" stroke-width="0.6">
<path d="M760.1 296.2 Q757 283 743.5 276.5 M772.2 294.2 Q769 281 756.5 273.5"/>
<path d="M743 276.2 l3.3 0 M743 276.2 l1.5 2.6 M756.1 273.2 l3.3 0.3 M756.1 273.2 l1.3 2.8"/>
</g>
<!-- cover plate -->
<path d="M755.1 305.3 L756.1 303.3 L801.3 297.3 L816.6 346.5 L817.3 348.4 L771.2 358.5 Z" fill="#ccd2d1" stroke="#222" stroke-width="0.6"/>
<path d="M756.1 303.3 L770.2 356.3 L816.6 346.5" fill="none" stroke="#222" stroke-width="0.6"/>
<g fill="none" stroke="#444" stroke-width="0.5"><circle cx="765.8" cy="308.9" r="1.8"/><circle cx="797.9" cy="304.3" r="1.8"/><circle cx="776.2" cy="347.4" r="1.8"/><circle cx="809.3" cy="341.4" r="1.8"/></g>
<!-- screwdriver -->
<path d="M784.2 314.3 L783.6 309 L803.5 254 L807.8 255.8 L788 310.6 Z" fill="#fff" stroke="#333" stroke-width="0.6"/>
<path d="M783.6 309 L786.5 306.5 L788 310.6" fill="none" stroke="#333" stroke-width="0.4"/>
<path d="M803.5 254 L806.5 248.5 L812 251 L807.8 255.8 Z" fill="#ccd2d1" stroke="#333" stroke-width="0.6"/>
<path d="M806.5 248.5 L811 244 L824 224 L839 224 L830 238 L815 249.5 L812 251" fill="#ccd2d1" stroke="#333" stroke-width="0.6"/>
<path d="M810.5 246 L824.5 227" stroke="#777" stroke-width="0.4"/>
</svg>
<div class="num">5</div></div>
<div class="panel" style="left:846px;top:223px;width:218px;height:157px;border-color:#bbb">
<svg class="a" style="left:-847px;top:-224px" width="1064" height="382" viewBox="0 0 1064 382">
<path d="M866.1 259.1 L1028 287 L1029.5 288.5 L1029.5 382 L869.5 382 Z" fill="#fff" stroke="none"/>
<g fill="none" stroke="#222" stroke-width="0.6">
<path d="M866.1 259.1 L1027.5 286.8"/>
<path d="M866.1 259.1 L869.3 382"/>
<path d="M1026.3 287.2 V382" stroke-width="0.7"/>
<path d="M1029.2 288 V382" stroke-width="1.1"/>
<path d="M875.7 271.7 L1018.9 296.2 L1018.9 309.6 L875.7 285.6 Z" stroke="#666" stroke-width="0.5"/>
</g>
<g transform="translate(936.3 235)">
<path d="M0 0 L7.6 1 L7.6 24 L5 25.5 L0 24.5 Z" fill="#fff" stroke="#333" stroke-width="0.6"/>
<circle cx="3.6" cy="7" r="2.3" fill="#aaa" stroke="#333" stroke-width="0.6"/><circle cx="3.6" cy="7" r="1" fill="#555"/>
<path d="M-8 22.5 L-4.5 19.5 L0 20 L0 24.5 L5 25.5 L0 27 L-6 26 Z" fill="#fff" stroke="#333" stroke-width="0.6"/>
<path d="M-4.5 19.5 V24.3 M-3 20 V24.8" stroke="#333" stroke-width="0.4"/>
</g><g transform="translate(1030.5 244)">
<path d="M0 0 L7.6 1 L7.6 24 L5 25.5 L0 24.5 Z" fill="#fff" stroke="#333" stroke-width="0.6"/>
<circle cx="3.6" cy="7" r="2.3" fill="#aaa" stroke="#333" stroke-width="0.6"/><circle cx="3.6" cy="7" r="1" fill="#555"/>
<path d="M-8 22.5 L-4.5 19.5 L0 20 L0 24.5 L5 25.5 L0 27 L-6 26 Z" fill="#fff" stroke="#333" stroke-width="0.6"/>
<path d="M-4.5 19.5 V24.3 M-3 20 V24.8" stroke="#333" stroke-width="0.4"/>
</g><path d="M891.5 252.8 Q897 241 909 241.5 Q916 242 920.5 245.5 L924.5 243.8 L921 254.6 L911.5 248 L915 247.6 Q910 245.5 905 246.5 Q898.5 248 895.3 253.6 Z" fill="#fff" stroke="#333" stroke-width="0.6"/><path d="M891.5 252.8 Q897 241 909 241.5 Q916 242 920.5 245.5 L924.5 243.8 L921 254.6 L911.5 248 L915 247.6 Q910 245.5 905 246.5 Q898.5 248 895.3 253.6 Z" fill="#fff" stroke="#333" stroke-width="0.6" transform="translate(92.6 8.9)"/>
</svg>
<div class="num">6</div></div>

<div class="bar" style="left:597px;top:420px;width:473px;height:11.8px"></div>
<div class="t" style="left:605.8px;top:420.3px;font-size:10.3px;color:#f2f2f2;font-weight:bold;letter-spacing:-0.5px;transform:scaleX(0.86);transform-origin:0 0">LED</div>
<div class="bar" style="left:597px;top:536px;width:473px;height:11.6px"></div>
<svg class="a" style="left:597px;top:536px" width="30" height="12" viewBox="597 536 30 12">
<path d="M602 546 Q601.5 541 604 539 Q607 537.5 610 539 Q613 540.5 613 544 L611.5 546.5 Z" fill="none" stroke="#aaa" stroke-width="1"/>
<path d="M604.5 545 Q605 541.5 607.5 540.5 M608 546 Q609 542.5 611 542" stroke="#999" stroke-width="0.8" fill="none"/>
<circle cx="602.5" cy="539.2" r="0.9" fill="#bbb"/>
<path d="M615.5 541 L616.2 542.8 L618 543.5 L616.2 544.2 L615.5 546 L614.8 544.2 L613 543.5 L614.8 542.8 Z" fill="#eee"/>
</svg>

<!-- TEXT -->
<div class="a" style="left:597px;top:0;width:155px"><div class="ln" data-k="led_cz" data-w="155" style="top:440.34px;letter-spacing:0px"><span><b>CZ:</b> Svítidlo na tomto výrobku obsahuje světelný</span></div>
<div class="ln" data-k="led_cz" data-w="155" style="top:447.94px;letter-spacing:0px"><span>zdroj s třídou energetické účinnosti G.</span></div>
<div class="ln" data-k="led_cz" data-w="155" style="top:455.54px;letter-spacing:0px"><span>Zabudovaný elektronický zdroj ani světelný zdroj</span></div>
<div class="ln last" data-k="led_cz" data-w="69.9" style="top:463.14px;letter-spacing:0.023px"><span>svítidla nelze vyměnit.</span></div></div>
<div class="a" style="left:758.4px;top:0;width:155px"><div class="ln" data-k="led_aj" data-w="155" style="top:440.34px;letter-spacing:0px"><span><b>AJ:</b> The luminaire on this product contains a</span></div>
<div class="ln" data-k="led_aj" data-w="155" style="top:447.94px;letter-spacing:0px"><span>light source with energy efficiency class G. The</span></div>
<div class="ln" data-k="led_aj" data-w="155" style="top:455.54px;letter-spacing:0px"><span>built-in electronic power supply and the light</span></div>
<div class="ln last" data-k="led_aj" data-w="136.2" style="top:463.14px;letter-spacing:0.004px"><span>source of the luminaire cannot be replaced.</span></div></div>
<div class="a" style="left:919.6px;top:430px;width:160px;height:300px;overflow:hidden"><div class="a" style="left:-1.1px;top:-430px;width:151.5px"><div class="ln" data-k="led_nj" data-w="151.5" style="top:440.34px;letter-spacing:0px"><span><b>NJ:</b> Die Leuchte dieses Produkts enthält ein</span></div>
<div class="ln" data-k="led_nj" data-w="151.5" style="top:447.94px;letter-spacing:0px"><span>Leuchtmittel der Energieeffizienzklasse G. Die</span></div>
<div class="ln" data-k="led_nj" data-w="151.5" style="top:455.54px;letter-spacing:0px"><span>eingebaute elektronische Stromquelle sowie die</span></div>
<div class="ln" data-k="led_nj" data-w="151.5" style="top:463.14px;letter-spacing:0px"><span>Lichtquelle der Leuchte können nicht</span></div>
<div class="ln last" data-k="led_nj" data-w="67.7" style="top:470.74px;letter-spacing:-0.12px"><span>ausgetauscht werden.</span></div></div></div>
<div class="a" style="left:597px;top:0;width:155px"><div class="ln" data-k="cl_cz" data-w="155" style="top:556.94px;letter-spacing:0px"><span><b>CZ</b>: Zrcadlo ošetřujte nejlépe čistou vodou po-</span></div>
<div class="ln" data-k="cl_cz" data-w="155" style="top:564.54px;letter-spacing:0px"><span>moci měkkého bavlněného hadříku a vždy ho</span></div>
<div class="ln" data-k="cl_cz" data-w="155" style="top:572.14px;letter-spacing:0px"><span>rychle a důkladně osušte, především jeho hra-</span></div>
<div class="ln" data-k="cl_cz" data-w="155" style="top:579.74px;letter-spacing:0px"><span>ny, aby se nedostala do zrcadla ze stran voda a</span></div>
<div class="ln" data-k="cl_cz" data-w="155" style="top:587.34px;letter-spacing:0px"><span>nepoškodila ho. Nepoužívejte prostředky pro</span></div>
<div class="ln" data-k="cl_cz" data-w="155" style="top:594.94px;letter-spacing:0px"><span>čištění oken, mnoho čisticích prostředků obsa-</span></div>
<div class="ln" data-k="cl_cz" data-w="155" style="top:602.54px;letter-spacing:0px"><span>hujících sloučeniny na bázi chlóru může způso-</span></div>
<div class="ln" data-k="cl_cz" data-w="155" style="top:610.14px;letter-spacing:0px"><span>bit závadu známou jako „černá hrana“, pokud</span></div>
<div class="ln" data-k="cl_cz" data-w="155" style="top:617.74px;letter-spacing:0px"><span>je čisticí prostředek ponechán příliš dlouho v</span></div>
<div class="ln last" data-k="cl_cz" data-w="84.7" style="top:625.34px;letter-spacing:0.06px"><span>kontaktu s hranou zrcadla.</span></div></div>
<div class="a" style="left:758.4px;top:0;width:155px"><div class="ln" data-k="cl_aj" data-w="155" style="top:556.94px;letter-spacing:0px"><span><b>AJ</b>: It is best to treat the mirror with clean wa-</span></div>
<div class="ln" data-k="cl_aj" data-w="155" style="top:564.54px;letter-spacing:0px"><span>ter using a soft cotton cloth and always dry it</span></div>
<div class="ln" data-k="cl_aj" data-w="155" style="top:572.14px;letter-spacing:0px"><span>quickly and thoroughly, especially its edges, so</span></div>
<div class="ln" data-k="cl_aj" data-w="155" style="top:579.74px;letter-spacing:0px"><span>that water does not get into the mirror from the</span></div>
<div class="ln" data-k="cl_aj" data-w="155" style="top:587.34px;letter-spacing:0px"><span>sides and damage it. Do not use window</span></div>
<div class="ln" data-k="cl_aj" data-w="155" style="top:594.94px;letter-spacing:0px"><span>cleaners, many cleaners containing chlorine-ba-</span></div>
<div class="ln" data-k="cl_aj" data-w="155" style="top:602.54px;letter-spacing:0px"><span>sed compounds can cause a defect known as a</span></div>
<div class="ln" data-k="cl_aj" data-w="155" style="top:610.14px;letter-spacing:0px"><span>„black edge“ if the cleaner is left in contact</span></div>
<div class="ln last" data-k="cl_aj" data-w="128.6" style="top:617.74px;letter-spacing:0.169px"><span>with the edge of the mirror for too long.</span></div></div>
<div class="a" style="left:919.6px;top:430px;width:160px;height:300px;overflow:hidden"><div class="a" style="left:-1.1px;top:-430px;width:151.5px"><div class="ln" data-k="cl_nj" data-w="151.5" style="top:556.94px;letter-spacing:0px"><span><b>NJ:</b> Behandeln Sie den Spiegel am besten mit</span></div>
<div class="ln" data-k="cl_nj" data-w="151.5" style="top:564.54px;letter-spacing:0px"><span>sauberem Wasser mit einem weichen</span></div>
<div class="ln" data-k="cl_nj" data-w="151.5" style="top:572.14px;letter-spacing:0px"><span>Baumwo- lltuch und trocknen Sie ihn immer</span></div>
<div class="ln" data-k="cl_nj" data-w="151.5" style="top:579.74px;letter-spacing:0px"><span>schnell und gründlich ab, insbesondere an</span></div>
<div class="ln" data-k="cl_nj" data-w="151.5" style="top:587.34px;letter-spacing:0px"><span>den Rändern, damit kein Wasser von den</span></div>
<div class="ln" data-k="cl_nj" data-w="151.5" style="top:594.94px;letter-spacing:0px"><span>Seiten in den Spie- gel gelangt und ihn</span></div>
<div class="ln" data-k="cl_nj" data-w="151.5" style="top:602.54px;letter-spacing:0px"><span>beschädigt. Verwenden Sie keine</span></div>
<div class="ln" data-k="cl_nj" data-w="151.5" style="top:610.14px;letter-spacing:0px"><span>Fensterreiniger, viele Reiniger, die Verbin-</span></div>
<div class="ln" data-k="cl_nj" data-w="151.5" style="top:617.74px;letter-spacing:0px"><span>dungen auf Chlorbasis enthalten, können</span></div>
<div class="ln" data-k="cl_nj" data-w="151.5" style="top:625.34px;letter-spacing:0px"><span>einen als „schwarze Kante“ bekannten</span></div>
<div class="ln" data-k="cl_nj" data-w="151.5" style="top:632.94px;letter-spacing:0px"><span>Defekt verursa- chen, wenn der Reiniger zu</span></div>
<div class="ln" data-k="cl_nj" data-w="151.5" style="top:640.54px;letter-spacing:0px"><span>lange mit der Kante des Spiegels in Kontakt</span></div>
<div class="ln last" data-k="cl_nj" data-w="22.3" style="top:648.14px;letter-spacing:0.37px"><span>bleibt.</span></div></div></div>
<!-- /TEXT -->
</body></html>
